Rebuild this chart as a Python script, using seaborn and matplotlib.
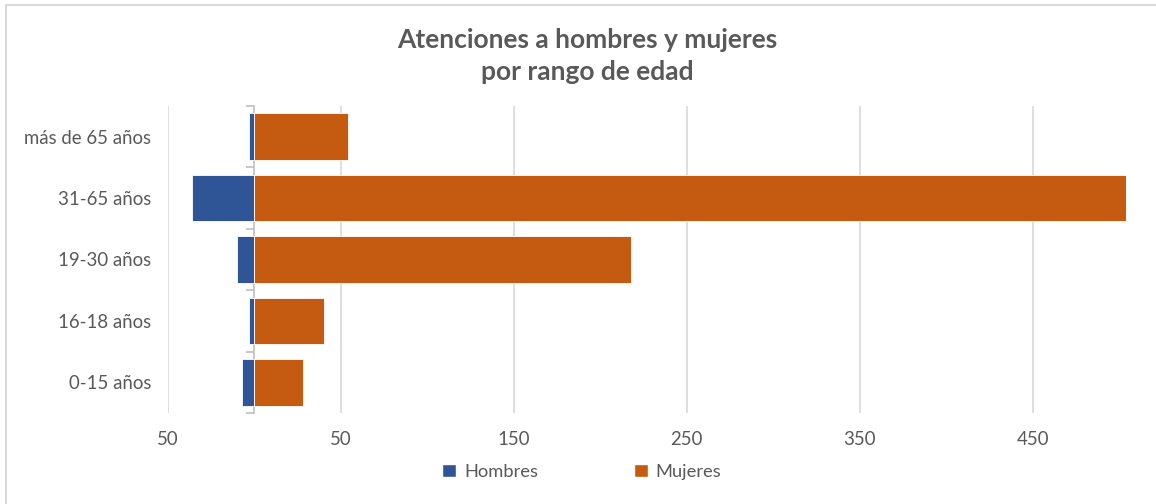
import seaborn as sns
import pandas as pd
import numpy as np
import matplotlib.pyplot as plt
from matplotlib import ticker
from matplotlib.patches import Rectangle, Patch

# data
categorias = ["más de 65 años", "31-65 años", "19-30 años", "16-18 años", "0-15 años"]
hombres = [3, 36, 10, 3, 7]
mujeres = [54, 504, 218, 40, 28]
ticks_x = [-50, 50, 150, 250, 350, 450]

AZUL = "#2F5597"
NARANJA = "#C55A11"
GRIS = "#595959"

sns.set_style("white")
plt.rcParams['font.family'] = ['Lato', 'DejaVu Sans']

df = pd.DataFrame({
    "rango": categorias * 2,
    "valor": [-h for h in hombres] + mujeres,
    "sexo": ["Hombres"] * len(categorias) + ["Mujeres"] * len(categorias),
})

fig = plt.figure(figsize=(11.56, 5.04), dpi=100)
ax = fig.add_axes([168 / 1156, 1 - 413 / 504, (1126 - 168) / 1156, (413 - 106) / 504])

sns.barplot(data=df, x="valor", y="rango", hue="sexo", order=categorias,
            palette={"Hombres": AZUL, "Mujeres": NARANJA}, dodge=False, saturation=1,
            orient="h", width=0.76, edgecolor="white", linewidth=0.6,
            legend=False, ax=ax, zorder=3)

xmin, xmax = -50, 504
ax.set_xlim(xmin, xmax)
ax.set_ylim(len(categorias) - 0.5, -0.5)
ax.set_xticks(ticks_x)
ax.xaxis.set_major_formatter(ticker.FuncFormatter(lambda v, p: f"{abs(v):.0f}"))
ax.grid(axis="x", color="#D9D9D9", linewidth=1.2, zorder=0)
ax.set_xlabel("")
ax.set_ylabel("")
for s in ax.spines.values():
    s.set_visible(False)
ax.tick_params(axis="both", length=0, labelsize=13.4, labelcolor=GRIS)
ax.tick_params(axis="x", pad=13)
ax.tick_params(axis="y", pad=12)

# vertical axis line at zero with category boundary ticks
sec = ax.secondary_yaxis((0 - xmin) / (xmax - xmin))
sec.set_yticks(np.arange(-0.5, len(categorias), 1.0))
sec.set_yticklabels([])
sec.tick_params(length=6, color="#BFBFBF", width=1.2)
sec.spines["left"].set_color("#BFBFBF")
sec.spines["left"].set_linewidth(1.2)

fig.text(587 / 1156, 1 - 40 / 504, "Atenciones a hombres y mujeres", ha="center", va="center",
         fontsize=19, fontweight="bold", color=GRIS)
fig.text(587 / 1156, 1 - 72 / 504, "por rango de edad", ha="center", va="center",
         fontsize=19, fontweight="bold", color=GRIS)

handles = [Patch(facecolor=AZUL, label="Hombres"), Patch(facecolor=NARANJA, label="Mujeres")]
fig.legend(handles=handles, loc="center", bbox_to_anchor=(582 / 1156, 1 - 472 / 504), ncol=2,
           frameon=False, fontsize=13.2, labelcolor=GRIS, handlelength=0.75, handleheight=0.75,
           handletextpad=0.45, columnspacing=5.2)

# chart border (top and left visible in the crop)
fig.patches.append(Rectangle((6 / 1156, -0.05), 1.2, 1 - 5 / 504 + 0.05, transform=fig.transFigure,
                             fill=False, edgecolor="#D9D9D9", linewidth=1.5))

fig.savefig("out.png", dpi=100)
